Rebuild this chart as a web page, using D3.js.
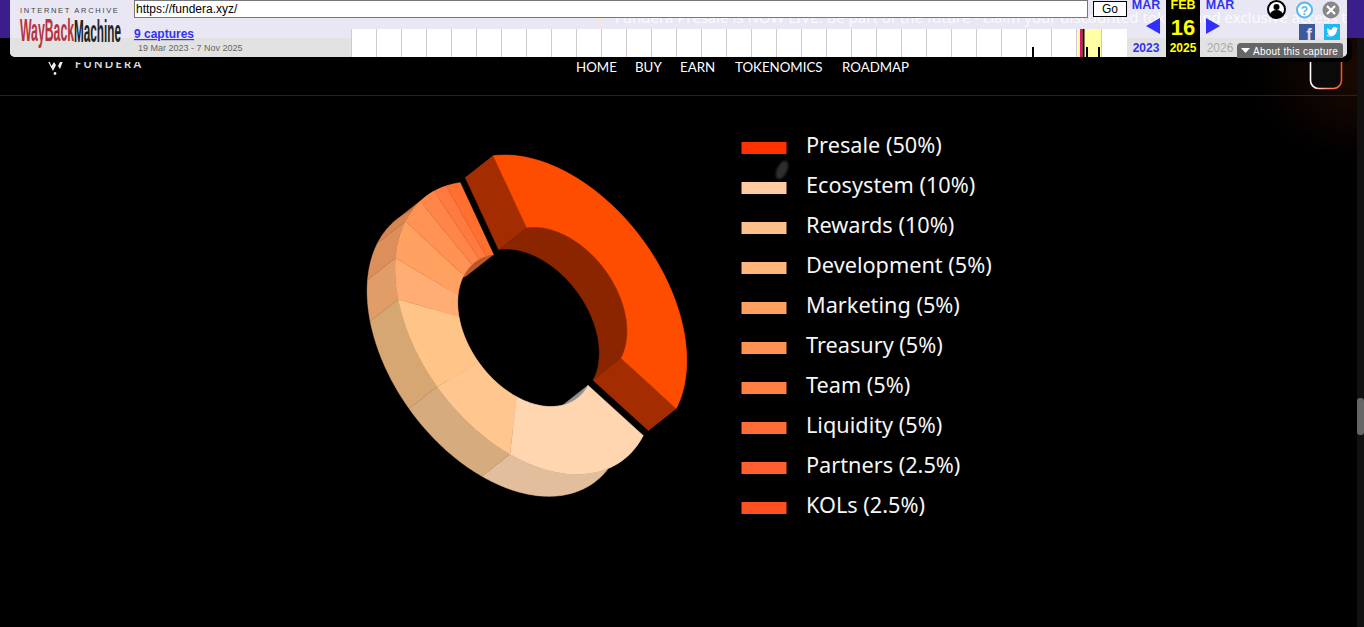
<!DOCTYPE html>
<html><head><meta charset="utf-8">
<script src="https://cdn.jsdelivr.net/npm/d3@7"></script>
<style>html,body{margin:0;padding:0;background:#000;overflow:hidden}svg{display:block}</style>
</head><body><svg id="c" width="1364" height="627"></svg>
<script>
// ---- chart data ----
const categories = ["Presale","Ecosystem","Rewards","Development","Marketing","Treasury","Team","Liquidity","Partners","KOLs"];
const legendShares = ["50%","10%","10%","5%","5%","5%","5%","5%","2.5%","2.5%"];
// slice sizes as they are actually drawn in the picture (% of the full turn)
const drawnShares = [39.7,20.33,10,9.75,4.78,5.11,3.69,2.58,2,2.06];
const raisedSlices = [1,0,0,0,0,0,0,0,0,0];
const legendColors = ["#ff3100","#ffcba3","#ffbf8a","#ffb67a","#ff9f60","#ff9152","#ff7f45","#ff6c38","#ff5f30","#ff5022"];
const topColors = ["#ff4d00","#ffd6b0","#ffc78f","#ffc488","#ffad73","#ffa161","#ff9254","#ff8548","#ff7a40","#ff7030"];
const wallColors = ["#a32d00","#e3be9c","#d6ac7e","#d6a673","#e09d68","#dc8f5a","#d98550","#c9743f","#c06a38","#b86030"];
const innerColors = ["#8a2500","#8c8f94","#a08060","#a08060","#b07a50","#b06c40","#b86238","#bd5c30","#c05a2c","#c05a2c"];
const navLabels = ["HOME","BUY","EARN","TOKENOMICS","ROADMAP"];
const captureCells = [27,29,29]; // calendar cells holding a capture tick
const captureOffsets = [5,9,21];

// ---- page ----
const svg = d3.select("#c");
const defs = svg.append("defs");
const g1 = defs.append("linearGradient").attr("id","btn").attr("x1",0).attr("x2",1).attr("y1",0).attr("y2",0);
g1.append("stop").attr("offset",0).attr("stop-color","#fff");
g1.append("stop").attr("offset",.5).attr("stop-color","#ff9a70");
g1.append("stop").attr("offset",1).attr("stop-color","#ff4d1a");
const g2 = defs.append("radialGradient").attr("id","glow").attr("cx",.5).attr("cy",.5).attr("r",.5);
g2.append("stop").attr("offset",0).attr("stop-color","#1c0a03");
g2.append("stop").attr("offset",1).attr("stop-color","#000");
defs.append("filter").attr("id","blur").append("feGaussianBlur").attr("stdDeviation",1.2);
defs.append("clipPath").attr("id","panelClip").append("rect").attr("x",10).attr("y",0).attr("width",1337).attr("height",57);

svg.append("rect").attr("width",1364).attr("height",627).attr("fill","#000");
svg.append("ellipse").attr("cx",1364).attr("cy",70).attr("rx",110).attr("ry",90).attr("fill","url(#glow)");

// ---- donut ----
const outerRing = {shift:4, ru:164.5, rv:105};
const innerRing = {shift:6.6, ru:85, rv:57};
const axisU = [0.596,0.803], axisV = [-0.803,0.596];
const baseCentre = [522,325], raisedShift = [33,-27], depth = [-28,22];
const startDeg = 199.6;
const pie = d3.pie().sort(null).value(d=>d)
  .startAngle(startDeg*Math.PI/180).endAngle((startDeg+360)*Math.PI/180);
const arcs = pie(drawnShares);
const project = (t,ring,c)=>{
  const a=ring.shift+ring.ru*Math.cos(t), b=ring.rv*Math.sin(t);
  return [c[0]+axisU[0]*a+axisV[0]*b, c[1]+axisU[1]*a+axisV[1]*b];
};
const line = d3.line();
const sample = (a,ring,c)=>{
  const n=Math.max(4,Math.ceil((a.endAngle-a.startAngle)*60));
  const s=d3.scaleLinear().domain([0,n]).range([a.startAngle,a.endAngle]);
  return d3.range(n+1).map(i=>project(s(i),ring,c));
};
const shift = pts=>pts.map(p=>[p[0]+depth[0],p[1]+depth[1]]);
const slices = categories.map((name,i)=>{
  const c = raisedSlices[i] ? [baseCentre[0]+raisedShift[0],baseCentre[1]+raisedShift[1]] : baseCentre;
  const o=sample(arcs[i],outerRing,c), n=sample(arcs[i],innerRing,c);
  return {name,i,o,n};
});
const donut = svg.append("g");
const face=(d,col)=>donut.append("path").attr("d",line(d)+"Z").attr("fill",col).attr("stroke",col).attr("stroke-width",.4);
const drawWalls = s=>{
  face(s.o.concat(shift(s.o).reverse()),wallColors[s.i]);
  face(s.n.concat(shift(s.n).reverse()),innerColors[s.i]);
  if(raisedSlices[s.i]){
    [[s.o[0],s.n[0]],[s.o[s.o.length-1],s.n[s.n.length-1]]].forEach(e=>{
      face([e[0],e[1],...shift([e[1],e[0]])],wallColors[s.i]);
    });
  }
};
const drawTop = s=>face(s.o.concat(s.n.slice().reverse()),topColors[s.i]);
const low = slices.filter(s=>!raisedSlices[s.i]), high = slices.filter(s=>raisedSlices[s.i]);
low.forEach(drawWalls); low.forEach(drawTop);
high.forEach(drawWalls); high.forEach(drawTop);

// ---- legend ----
const legendY = d3.scalePoint().domain(categories).range([148,508]);
const legend = svg.append("g").selectAll("g").data(categories).join("g")
  .attr("transform",d=>`translate(0,${legendY(d)})`);
legend.append("rect").attr("x",741.5).attr("y",-6).attr("width",45).attr("height",12)
  .attr("fill",(d,i)=>legendColors[i]);
legend.append("text").attr("x",806).attr("y",4.5)
  .attr("font-family","'Noto Sans'").attr("font-size",21.7).attr("fill","#f6f6f6")
  .text((d,i)=>`${d} (${legendShares[i]})`);
svg.append("ellipse").attr("cx",782).attr("cy",170).attr("rx",5).attr("ry",10)
  .attr("transform","rotate(25 782 170)").attr("fill","#555").attr("opacity",.55).attr("filter","url(#blur)");

// ---- site header ----
const navX = [576,635,680,735,842];
svg.append("g").selectAll("text").data(navLabels).join("text")
  .attr("x",(d,i)=>navX[i]).attr("y",72).attr("font-family","Lato").attr("font-size",13.3)
  .attr("fill","#fff").text(d=>d);
svg.append("text").attr("x",75).attr("y",68).attr("font-family","Lato").attr("font-weight",700)
  .attr("font-size",11).attr("letter-spacing",2.3).attr("fill","#ddd").text("FUNDERA");
svg.append("path").attr("d","M45 56 L53 71 L56 65 L54 62 L51.500 66 L48 58 H62 L58 66 L60 69 L65 56Z").attr("fill","#eee");
svg.append("circle").attr("cx",55).attr("cy",73.5).attr("r",1.4).attr("fill","#eee");
svg.append("line").attr("x1",0).attr("x2",1357).attr("y1",95.5).attr("y2",95.5).attr("stroke","#262322");
svg.append("rect").attr("x",1310.5).attr("y",40).attr("width",31).attr("height",48.5).attr("rx",8)
  .attr("fill","#0a0a0a").attr("stroke","url(#btn)").attr("stroke-width",1.6);

// scrollbar
svg.append("rect").attr("x",1357).attr("y",0).attr("width",7).attr("height",627).attr("fill","#111");
svg.append("rect").attr("x",1357).attr("y",398).attr("width",7).attr("height",37).attr("rx",3).attr("fill","#666");

// ---- wayback toolbar ----
const tb = svg.append("g").attr("font-family","'Liberation Sans'");
tb.append("rect").attr("x",0).attr("y",0).attr("width",1364).attr("height",38).attr("fill","#3a1f8c");
tb.append("rect").attr("x",5).attr("y",38).attr("width",1347).attr("height",24).attr("rx",7).attr("fill","#000");
tb.append("rect").attr("x",10).attr("y",-6).attr("width",1337).attr("height",63).attr("rx",5).attr("fill","#e9e7f3");
tb.append("path").attr("d","M10 38H352V57H15a5 5 0 0 1-5-5Z").attr("fill","#e2e2e2");
tb.append("rect").attr("x",1127).attr("y",38).attr("width",39).attr("height",19).attr("fill","#e2e2e2");
tb.append("path").attr("d","M1200 38H1347V52a5 5 0 0 1-5 5H1200Z").attr("fill","#e2e2e2");
tb.append("g").attr("clip-path","url(#panelClip)").append("text").attr("x",615).attr("y",22.5).attr("font-family","'Noto Sans'").attr("font-size",15)
  .attr("fill","#fbfaff").text("Fundera Presale is NOW LIVE: Be part of the future - claim your discounted tokens and exclusive access to");
tb.append("path").attr("d","M595 22l7-5 1 3-5 4Z").attr("fill","#f7e6d8");

tb.append("text").attr("x",20).attr("y",13).attr("font-size",7.5).attr("letter-spacing",1.7).attr("fill","#444").text("INTERNET ARCHIVE");
tb.append("text").attr("x",20).attr("y",41).attr("font-family","'Liberation Sans Narrow','Liberation Sans'").attr("font-weight",700)
  .attr("font-size",32).attr("textLength",54).attr("lengthAdjust","spacingAndGlyphs").attr("fill","#b5333c").text("WayBack");
tb.append("text").attr("x",74).attr("y",42).attr("font-family","'Liberation Sans Narrow','Liberation Sans'").attr("font-weight",700)
  .attr("font-size",32).attr("textLength",47).attr("lengthAdjust","spacingAndGlyphs").attr("fill","#222").text("Machine");

tb.append("rect").attr("x",134.5).attr("y",0.5).attr("width",953).attr("height",17).attr("fill","#fff").attr("stroke","#777");
tb.append("text").attr("x",136).attr("y",13).attr("font-size",12).attr("fill","#000").text("https://fundera.xyz/");
tb.append("rect").attr("x",1093.5).attr("y",1.5).attr("width",33).attr("height",15).attr("fill","#fff").attr("stroke","#000");
tb.append("text").attr("x",1110).attr("y",13).attr("text-anchor","middle").attr("font-size",12).attr("fill","#000").text("Go");
tb.append("text").attr("x",134).attr("y",38).attr("font-size",12).attr("font-weight",700).attr("fill","#3333ee").attr("text-decoration","underline").text("9 captures");
tb.append("text").attr("x",138).attr("y",51).attr("font-size",9).attr("fill","#666").text("19 Mar 2023 - 7 Nov 2025");

// calendar strip
const cellX = d3.scaleLinear().domain([0,31]).range([352,1127]);
tb.append("rect").attr("x",352).attr("y",29).attr("width",775).attr("height",28).attr("fill","#fff");
tb.append("rect").attr("x",cellX(29)).attr("y",29).attr("width",25).attr("height",28).attr("fill","#ffffa5");
tb.append("g").selectAll("line").data(d3.range(0,31)).join("line")
  .attr("x1",d=>Math.round(cellX(d))-.5).attr("x2",d=>Math.round(cellX(d))-.5).attr("y1",29).attr("y2",57).attr("stroke","#ccc");
tb.append("rect").attr("x",1080).attr("y",29).attr("width",2.5).attr("height",28).attr("fill","#f0047f");
tb.append("rect").attr("x",1082.5).attr("y",29).attr("width",2).attr("height",28).attr("fill","#000");
tb.append("g").selectAll("rect").data(captureCells).join("rect")
  .attr("x",(d,i)=>cellX(d)+captureOffsets[i]).attr("y",47).attr("width",2).attr("height",10).attr("fill","#000");

// month navigation
tb.append("rect").attr("x",1166).attr("y",0).attr("width",34).attr("height",57).attr("fill","#000");
const T=(x,y,s,c,t)=>tb.append("text").attr("x",x).attr("y",y).attr("font-size",s).attr("fill",c).attr("font-weight",700).attr("text-anchor","middle").text(t);
T(1146,9,12.5,"#3333ee","MAR"); T(1146,52,12,"#3333ee","2023");
T(1183,9,12.5,"#ffff00","FEB"); T(1183,35,22,"#ffff00","16"); T(1183,52,12,"#ffff00","2025");
T(1220,9,12.5,"#3333ee","MAR");
tb.append("text").attr("x",1220).attr("y",52).attr("font-size",12).attr("fill","#aaa").attr("text-anchor","middle").text("2026");
tb.append("path").attr("d","M1160 18V34L1146 26Z").attr("fill","#2f2fff");
tb.append("path").attr("d","M1206 18V34L1220 26Z").attr("fill","#2f2fff");

// icons
tb.append("circle").attr("cx",1276.5).attr("cy",9.5).attr("r",8.5).attr("fill","#fff").attr("stroke","#000").attr("stroke-width",2);
tb.append("circle").attr("cx",1276.5).attr("cy",7).attr("r",3).attr("fill","#000");
tb.append("path").attr("d","M1270 15a6.500 5 0 0 1 13 0a8 8 0 0 1-13 0Z").attr("fill","#000");
tb.append("circle").attr("cx",1304.5).attr("cy",10).attr("r",7.5).attr("fill","#fff").attr("stroke","#58b6f0").attr("stroke-width",2);
tb.append("text").attr("x",1304.5).attr("y",14.5).attr("text-anchor","middle").attr("font-size",12).attr("font-weight",700).attr("fill","#58b6f0").text("?");
tb.append("circle").attr("cx",1331).attr("cy",10).attr("r",8.5).attr("fill","#888");
tb.append("path").attr("d","M1327 6l8 8M1335 6l-8 8").attr("stroke","#fff").attr("stroke-width",2.2);
tb.append("rect").attr("x",1299).attr("y",24).attr("width",16).attr("height",16).attr("fill","#3b5a99");
tb.append("text").attr("x",1309).attr("y",40).attr("text-anchor","middle").attr("font-size",17).attr("font-weight",700).attr("fill","#dde").text("f");
tb.append("rect").attr("x",1324).attr("y",24).attr("width",16).attr("height",16).attr("fill","#1fb8f2");
tb.append("path").attr("d","M1327 35q3 2 6 1q4-2 4-7l1.500-1.500-2 .5q-2-2-4 0-1 1-.5 2-3 0-4.500-2-1 3 1 4l-1.500-.5q.5 2 2 2.500l-1 0q1 1.500 2 1.500q-1 1-3.500 .5Z").attr("fill","#fff");
tb.append("path").attr("d","M1237 47a4 4 0 0 1 4-4H1340a3 3 0 0 1 3 3V58H1237Z").attr("fill","#666");
tb.append("path").attr("d","M1241 48H1250L1245.500 53Z").attr("fill","#fff");
tb.append("text").attr("x",1253).attr("y",55).attr("font-size",10).attr("letter-spacing",.25).attr("fill","#fff").text("About this capture");
</script></body></html>
